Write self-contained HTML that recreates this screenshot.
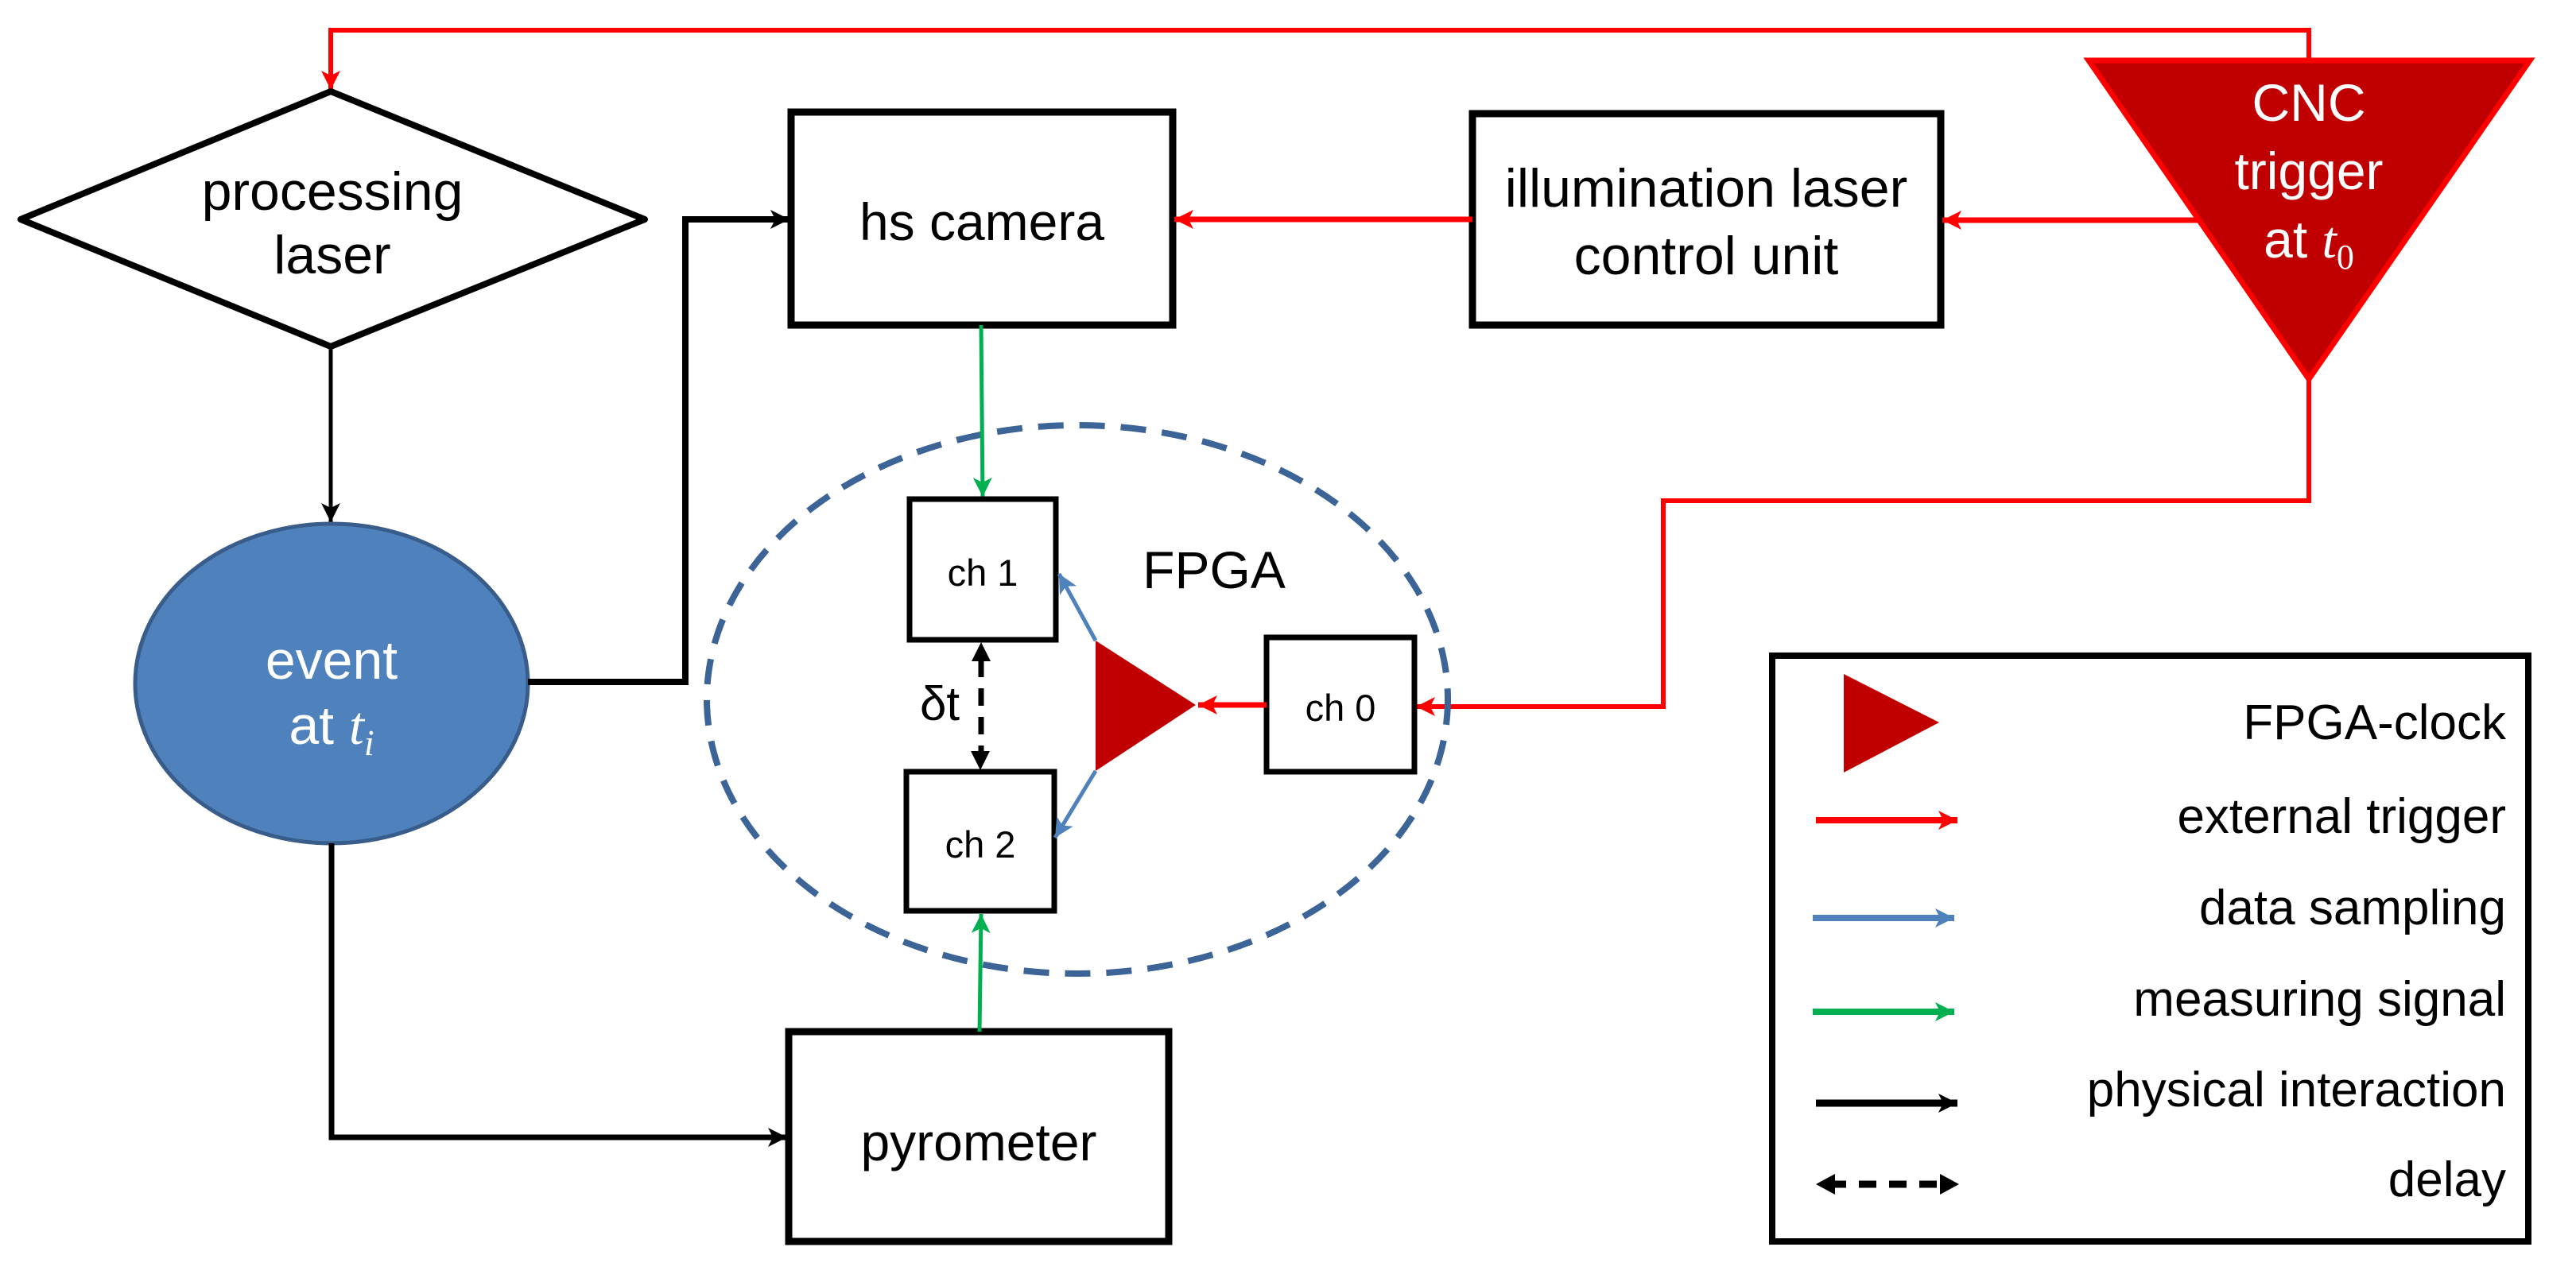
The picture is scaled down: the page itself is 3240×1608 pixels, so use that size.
<!DOCTYPE html>
<html><head><meta charset="utf-8"><style>
html,body{margin:0;padding:0;background:#fff;}
svg{display:block;}
text{font-family:"Liberation Sans",Arial,sans-serif;}
</style></head><body>
<svg width="3240" height="1608" viewBox="0 0 3240 1608" xmlns="http://www.w3.org/2000/svg">
<defs>
<marker id="ar" markerUnits="userSpaceOnUse" markerWidth="30" markerHeight="30" refX="24" refY="12" orient="auto"><path d="M0,0 L24,12 L0,24 L6,12 Z" fill="#FF0000"/></marker>
<marker id="ak" markerUnits="userSpaceOnUse" markerWidth="30" markerHeight="30" refX="24" refY="12" orient="auto"><path d="M0,0 L24,12 L0,24 L6,12 Z" fill="#000"/></marker>
<marker id="ag" markerUnits="userSpaceOnUse" markerWidth="30" markerHeight="30" refX="24" refY="12" orient="auto"><path d="M0,0 L24,12 L0,24 L6,12 Z" fill="#00B050"/></marker>
<marker id="ab" markerUnits="userSpaceOnUse" markerWidth="30" markerHeight="30" refX="24" refY="12" orient="auto"><path d="M0,0 L24,12 L0,24 L6,12 Z" fill="#4F81BD"/></marker>
</defs>

<polyline points="2904,78 2904,38 416,38 416,113" fill="none" stroke="#FF0000" stroke-width="6" marker-end="url(#ar)"/>

<polygon points="416,115 811,276 416,436 26,276" fill="#fff" stroke="#000" stroke-width="8" stroke-linejoin="round"/>
<text x="418" y="264" font-size="68" text-anchor="middle">processing</text>
<text x="418" y="344" font-size="68" text-anchor="middle">laser</text>

<line x1="416" y1="436" x2="416" y2="657" stroke="#000" stroke-width="5" marker-end="url(#ak)"/>

<ellipse cx="417" cy="860" rx="247" ry="201" fill="#4F81BD" stroke="#385D8A" stroke-width="5"/>
<text x="417" y="854" font-size="68" text-anchor="middle" fill="#fff">event</text>
<text x="417" y="936" font-size="68" text-anchor="middle" fill="#fff">at <tspan font-family="Liberation Serif,serif" font-style="italic">t</tspan><tspan font-family="Liberation Serif,serif" font-style="italic" font-size="46" dy="14">i</tspan></text>

<polyline points="664,858 862,858 862,276 993,276" fill="none" stroke="#000" stroke-width="8" marker-end="url(#ak)"/>
<polyline points="417,1061 417,1431 990,1431" fill="none" stroke="#000" stroke-width="7" marker-end="url(#ak)"/>

<rect x="995" y="141" width="480" height="268" fill="#fff" stroke="#000" stroke-width="9"/>
<text x="1235" y="302" font-size="66" text-anchor="middle">hs camera</text>

<rect x="1852" y="143" width="589" height="266" fill="#fff" stroke="#000" stroke-width="9"/>
<text x="2146" y="260" font-size="68" text-anchor="middle">illumination laser</text>
<text x="2146" y="345" font-size="68" text-anchor="middle">control unit</text>

<line x1="1852" y1="276" x2="1477" y2="276" stroke="#FF0000" stroke-width="7" marker-end="url(#ar)"/>
<line x1="2765" y1="277" x2="2443" y2="277" stroke="#FF0000" stroke-width="7" marker-end="url(#ar)"/>

<polygon points="2627,76 3182,76 2904,477" fill="#C00000" stroke="#FF0000" stroke-width="7" stroke-linejoin="miter"/>
<text x="2904" y="152" font-size="66" text-anchor="middle" fill="#fff">CNC</text>
<text x="2904" y="238" font-size="66" text-anchor="middle" fill="#fff">trigger</text>
<text x="2904" y="324" font-size="66" text-anchor="middle" fill="#fff">at <tspan font-family="Liberation Serif,serif" font-style="italic">t</tspan><tspan font-family="Liberation Serif,serif" font-size="44" dy="14">0</tspan></text>

<polyline points="2904,477 2904,630 2092,630 2092,889 1781,889" fill="none" stroke="#FF0000" stroke-width="6" marker-end="url(#ar)"/>

<ellipse cx="1355" cy="880" rx="466" ry="345" fill="none" stroke="#3C6496" stroke-width="8" stroke-dasharray="32,20"/>
<text x="1527" y="740" font-size="66" text-anchor="middle">FPGA</text>

<line x1="1234" y1="409" x2="1236" y2="625" stroke="#00B050" stroke-width="5" marker-end="url(#ag)"/>

<rect x="1144" y="628" width="184" height="177" fill="#fff" stroke="#000" stroke-width="7"/>
<text x="1236" y="737" font-size="47" text-anchor="middle">ch 1</text>
<rect x="1140" y="971" width="186" height="175" fill="#fff" stroke="#000" stroke-width="7"/>
<text x="1233" y="1079" font-size="47" text-anchor="middle">ch 2</text>
<rect x="1593" y="802" width="186" height="169" fill="#fff" stroke="#000" stroke-width="7"/>
<text x="1686" y="907" font-size="47" text-anchor="middle">ch 0</text>

<line x1="1234" y1="830" x2="1234" y2="945" stroke="#000" stroke-width="7" stroke-dasharray="22,14"/>
<path d="M1222,832 L1234,808 L1246,832 Z" fill="#000"/>
<path d="M1221,945 L1233,969 L1245,945 Z" fill="#000"/>
<text x="1182" y="906" font-size="60" text-anchor="middle">δt</text>

<polygon points="1378,806 1378,970 1504,887" fill="#C00000"/>
<line x1="1593" y1="887" x2="1507" y2="887" stroke="#FF0000" stroke-width="7" marker-end="url(#ar)"/>
<line x1="1378" y1="806" x2="1332" y2="722" stroke="#4F81BD" stroke-width="5" marker-end="url(#ab)"/>
<line x1="1378" y1="970" x2="1327" y2="1054" stroke="#4F81BD" stroke-width="5" marker-end="url(#ab)"/>

<rect x="992" y="1298" width="478" height="264" fill="#fff" stroke="#000" stroke-width="9"/>
<text x="1231" y="1460" font-size="66" text-anchor="middle">pyrometer</text>
<line x1="1232" y1="1298" x2="1234" y2="1150" stroke="#00B050" stroke-width="5" marker-end="url(#ag)"/>

<rect x="2229" y="825" width="951" height="737" fill="#fff" stroke="#000" stroke-width="8"/>
<polygon points="2319,848 2319,972 2439,909" fill="#C00000"/>
<text x="3152" y="930" font-size="62" text-anchor="end">FPGA-clock</text>
<line x1="2284" y1="1032" x2="2462" y2="1032" stroke="#FF0000" stroke-width="8" marker-end="url(#ar)"/>
<text x="3152" y="1048" font-size="62" text-anchor="end">external trigger</text>
<line x1="2280" y1="1155" x2="2458" y2="1155" stroke="#4F81BD" stroke-width="8" marker-end="url(#ab)"/>
<text x="3152" y="1163" font-size="62" text-anchor="end">data sampling</text>
<line x1="2280" y1="1273" x2="2458" y2="1273" stroke="#00B050" stroke-width="8" marker-end="url(#ag)"/>
<text x="3152" y="1278" font-size="62" text-anchor="end">measuring signal</text>
<line x1="2284" y1="1388" x2="2462" y2="1388" stroke="#000" stroke-width="9" marker-end="url(#ak)"/>
<text x="3152" y="1392" font-size="62" text-anchor="end">physical interaction</text>
<line x1="2300" y1="1490" x2="2446" y2="1490" stroke="#000" stroke-width="9" stroke-dasharray="22,16"/>
<path d="M2308,1477 L2284,1490 L2308,1503 Z" fill="#000"/>
<path d="M2440,1477 L2464,1490 L2440,1503 Z" fill="#000"/>
<text x="3152" y="1505" font-size="62" text-anchor="end">delay</text>
</svg>
</body></html>
